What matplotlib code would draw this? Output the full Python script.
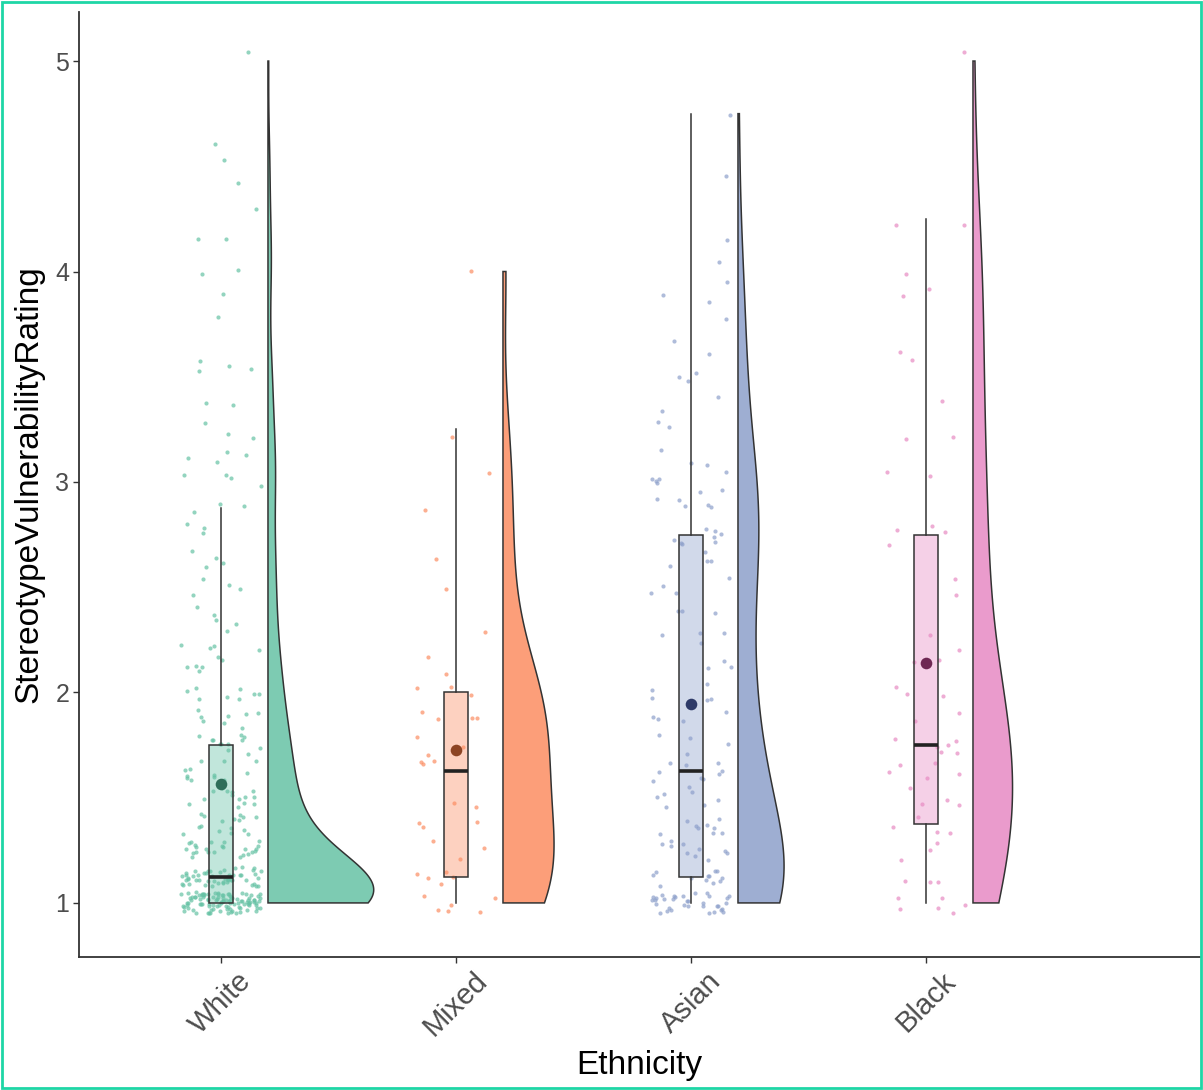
import numpy as np
import matplotlib
matplotlib.use("Agg")
import matplotlib.pyplot as plt
from matplotlib.patches import Polygon, Rectangle

plt.rcParams['font.family'] = ['Liberation Sans', 'DejaVu Sans']

# Data: rating levels (steps of 1/8) and how many people gave each
groups = ["White", "Mixed", "Asian", "Black"]

white_levels = [1.0, 1.125, 1.25, 1.375, 1.5, 1.625, 1.75, 1.875, 2.0, 2.125, 2.25, 2.375,
                2.5, 2.625, 2.75, 2.875, 3.0, 3.125, 3.25, 3.375, 3.5, 3.625, 3.75, 3.875,
                4.0, 4.125, 4.25, 4.375, 4.5, 4.625, 5.0]
white_counts = [105, 50, 24, 16, 14, 12, 12, 8, 8, 6, 5, 4,
                4, 4, 3, 3, 4, 4, 3, 2, 3, 1, 1, 1,
                2, 2, 1, 1, 1, 1, 1]

mixed_levels = [1.0, 1.125, 1.25, 1.375, 1.5, 1.625, 1.75, 1.875, 2.0, 2.125, 2.25, 2.5,
                2.625, 2.875, 3.0, 3.25, 4.0]
mixed_counts = [6, 5, 3, 3, 2, 3, 3, 4, 3, 2, 1, 1,
                1, 1, 1, 1, 1]

asian_levels = [1.0, 1.125, 1.25, 1.375, 1.5, 1.625, 1.75, 1.875, 2.0, 2.125, 2.25, 2.375,
                2.5, 2.625, 2.75, 2.875, 3.0, 3.125, 3.25, 3.375, 3.5, 3.625, 3.75, 3.875,
                4.0, 4.125, 4.5, 4.75]
asian_counts = [34, 12, 10, 9, 7, 9, 4, 4, 5, 3, 4, 3,
                4, 4, 8, 5, 7, 3, 2, 2, 3, 2, 1, 2,
                2, 1, 1, 1]

black_levels = [1.0, 1.125, 1.25, 1.375, 1.5, 1.625, 1.75, 1.875, 2.0, 2.125, 2.25, 2.5,
                2.75, 3.0, 3.25, 3.375, 3.625, 3.875, 4.0, 4.25, 5.0]
black_counts = [6, 3, 3, 4, 4, 5, 6, 2, 3, 2, 2, 2,
                4, 2, 2, 1, 2, 2, 1, 2, 1]

# Styles
colors = ["#66c2a5", "#fc8d62", "#8da0cb", "#e78ac3"]
mean_colors = ["#2f6e5a", "#8c4424", "#2e3a68", "#6e2853"]
edge = "#333333"


def kde(vals, grid):
    # gaussian kde with R's bw.nrd0
    sd = vals.std(ddof=1)
    q75, q25 = np.percentile(vals, [75, 25])
    bw = 0.9 * min(sd, (q75 - q25) / 1.34) * len(vals) ** -0.2
    z = (grid[:, None] - vals[None, :]) / bw
    return np.exp(-0.5 * z ** 2).sum(axis=1) / (len(vals) * bw * np.sqrt(2 * np.pi))


def spread(idx, k):
    # deterministic hash in [-0.5, 0.5), used only to scatter point positions
    return (np.sin(idx * 12.9898 + k * 78.233) * 43758.5453) % 1 - 0.5


data = [np.repeat(white_levels, white_counts),
        np.repeat(mixed_levels, mixed_counts),
        np.repeat(asian_levels, asian_counts),
        np.repeat(black_levels, black_counts)]
positions = [1, 2, 3, 4]

fig = plt.figure(figsize=(12.03, 10.9), dpi=100)
ax = fig.add_axes([0.0657, 0.122, 0.9318, 0.867])

# half violins, area scaled against the widest one
grids = [np.linspace(d.min(), d.max(), 512) for d in data]
dens = [kde(d, g) for d, g in zip(data, grids)]
scale = 0.45 / max(dd.max() for dd in dens)
for pos, g, dd, c in zip(positions, grids, dens, colors):
    x0 = pos + 0.2
    xs = np.concatenate([[x0], x0 + dd * scale, [x0]])
    ys = np.concatenate([[g[0]], g, [g[-1]]])
    ax.add_patch(Polygon(np.column_stack([xs, ys]), closed=True, facecolor=c,
                         alpha=0.85, edgecolor="none", zorder=1))
    ax.add_patch(Polygon(np.column_stack([xs, ys]), closed=True, facecolor="none",
                         edgecolor=edge, linewidth=1.1, zorder=2))

# jittered raw points
for gi, (pos, d, c) in enumerate(zip(positions, data, colors)):
    idx = np.arange(len(d)) + 1000 * gi
    jx = spread(idx, 1) * 0.34
    jy = spread(idx, 2) * 0.10
    ax.scatter(pos + jx, d + jy, s=9, color=c, alpha=0.7, linewidths=0, zorder=3)

# boxplots
bp = ax.boxplot(data, positions=positions, widths=0.1, showfliers=False, showcaps=False,
                patch_artist=True, zorder=4,
                whiskerprops=dict(color=edge, linewidth=1.1),
                medianprops=dict(color="#222222", linewidth=2.6),
                boxprops=dict(edgecolor=edge, linewidth=1.1))
for box, c in zip(bp["boxes"], colors):
    box.set_facecolor(matplotlib.colors.to_rgba(c, 0.4))

# group means
for pos, d, mc in zip(positions, data, mean_colors):
    ax.scatter([pos], [d.mean()], s=70, color=mc, linewidths=0, zorder=6)

ax.set_xlim(0.396, 5.166)
ax.set_ylim(0.743, 5.233)
ax.set_yticks([1, 2, 3, 4, 5])
ax.set_yticklabels(["1", "2", "3", "4", "5"])
ax.set_xticks(positions)
ax.set_xticklabels(groups, rotation=45, ha="center", va="top")

for side in ["top", "right"]:
    ax.spines[side].set_visible(False)
for side in ["left", "bottom"]:
    ax.spines[side].set_color(edge)
    ax.spines[side].set_linewidth(1.3)
ax.tick_params(axis="both", length=4, width=1, color=edge, labelsize=18,
               labelcolor="#4d4d4d", pad=3)
ax.tick_params(axis="x", labelsize=21)

ax.set_xlabel("Ethnicity", fontsize=24, labelpad=6)
ax.set_ylabel("StereotypeVulnerabilityRating", fontsize=24, labelpad=8)

# teal frame around the whole picture
fig.patches.append(Rectangle((0.002, 0.002), 0.996, 0.996, transform=fig.transFigure,
                             fill=False, edgecolor="#1ed6a6", linewidth=2))

fig.savefig("out.png", dpi=100)
